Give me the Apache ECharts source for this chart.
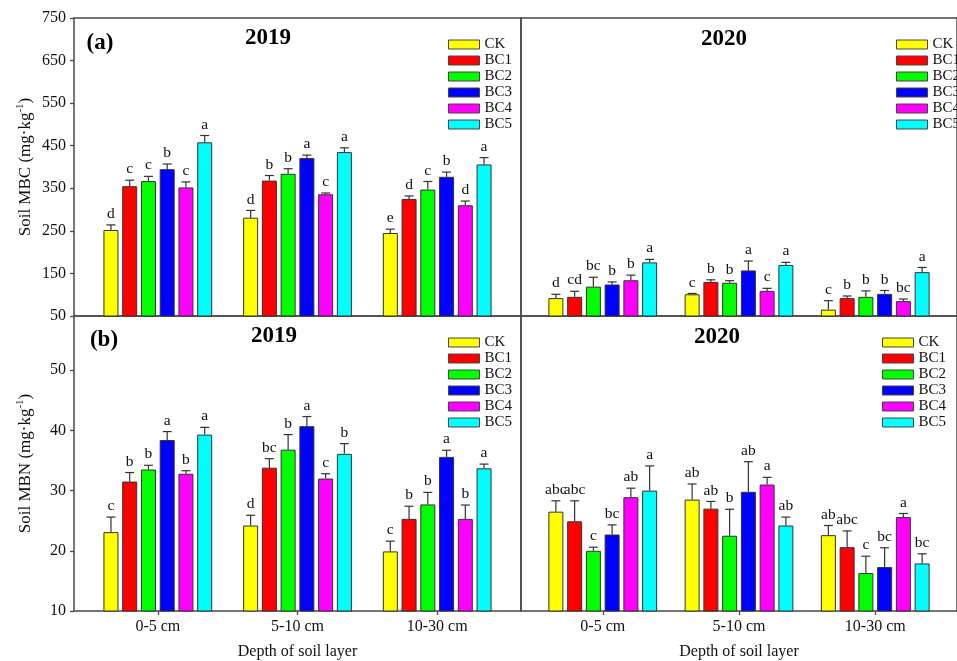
<!DOCTYPE html>
<html>
<head>
<meta charset="utf-8">
<script src="https://cdn.jsdelivr.net/npm/echarts@6/dist/echarts.min.js"></script>
<style>
  html, body { margin: 0; padding: 0; background: #fff; }
  #chart { width: 957px; height: 661px; }
</style>
</head>
<body>
<div id="chart"></div>
<script>
// Soil depth layers and biochar treatments
const depths = ['0-5 cm', '5-10 cm', '10-30 cm'];
const treatments = ['CK', 'BC1', 'BC2', 'BC3', 'BC4', 'BC5'];

// Tick values for the two y-axes
const mbcTicks = [50, 150, 250, 350, 450, 550, 650, 750];
const mbnTicks = [10, 20, 30, 40, 50];

// Soil MBC 2019: mean per treatment (rows) and depth (columns), SE, significance letters
const mbc2019Mean = [[252, 281, 245], [355, 368, 325], [367, 384, 347], [395, 421, 377], [352, 336, 310], [458, 435, 406]];
const mbc2019Err  = [[12, 17, 9], [14, 12, 7], [11, 12, 19], [12, 7, 11], [13, 3, 10], [16, 10, 16]];
const mbc2019Sig  = [['d', 'd', 'e'], ['c', 'b', 'd'], ['c', 'b', 'c'], ['b', 'a', 'b'], ['c', 'c', 'd'], ['a', 'a', 'a']];

// Soil MBC 2020
const mbc2020Mean = [[92, 101, 65], [95, 130, 92], [119, 128, 95], [124, 157, 102], [134, 109, 85], [176, 170, 153]];
const mbc2020Err  = [[9, 2, 21], [13, 5, 5], [22, 5, 14], [6, 22, 8], [12, 6, 5], [7, 6, 11]];
const mbc2020Sig  = [['d', 'c', 'c'], ['cd', 'b', 'b'], ['bc', 'b', 'b'], ['b', 'a', 'b'], ['b', 'c', 'bc'], ['a', 'a', 'a']];

// Soil MBN 2019
const mbn2019Mean = [[23.1, 24.2, 19.9], [31.5, 33.8, 25.3], [33.5, 36.8, 27.7], [38.4, 40.7, 35.6], [32.8, 32.0, 25.3], [39.3, 36.1, 33.7]];
const mbn2019Err  = [[2.5, 1.7, 1.7], [1.5, 1.5, 2.1], [0.7, 2.5, 2.0], [1.4, 1.6, 1.1], [0.5, 0.8, 2.3], [1.2, 1.7, 0.7]];
const mbn2019Sig  = [['c', 'd', 'c'], ['b', 'bc', 'b'], ['b', 'b', 'b'], ['a', 'a', 'a'], ['b', 'c', 'b'], ['a', 'b', 'a']];

// Soil MBN 2020
const mbn2020Mean = [[26.5, 28.5, 22.6], [24.9, 27.0, 20.6], [20.0, 22.5, 16.3], [22.7, 29.8, 17.3], [28.9, 31.0, 25.6], [30.0, 24.2, 17.9]];
const mbn2020Err  = [[1.8, 2.6, 1.6], [3.4, 1.2, 2.7], [0.6, 4.4, 2.8], [1.6, 5.0, 3.2], [1.5, 1.2, 0.6], [4.1, 1.4, 1.6]];
const mbn2020Sig  = [['abc', 'ab', 'ab'], ['abc', 'ab', 'abc'], ['c', 'b', 'c'], ['bc', 'ab', 'bc'], ['ab', 'a', 'a'], ['a', 'ab', 'bc']];

// ---- styling ----
const FONT = '"Liberation Serif", "Times New Roman", serif';
const palette = ['#ffff00', '#ff0000', '#00ff00', '#0000ff', '#ff00ff', '#00ffff'];
const FRAME = '#4a4a4a';
const BAR_W = 15;
const BAR_GAP = 0.25;
const BAR_PITCH = BAR_W * (1 + BAR_GAP);

// four panels: top row MBC, bottom row MBN; left 2019, right 2020
const panels = [
  { mean: mbc2019Mean, err: mbc2019Err, sig: mbc2019Sig, kind: 'mbc', col: 0 },
  { mean: mbc2020Mean, err: mbc2020Err, sig: mbc2020Sig, kind: 'mbc', col: 1 },
  { mean: mbn2019Mean, err: mbn2019Err, sig: mbn2019Sig, kind: 'mbn', col: 0 },
  { mean: mbn2020Mean, err: mbn2020Err, sig: mbn2020Sig, kind: 'mbn', col: 1 }
];

const grids = [
  { left: 74, top: 18, width: 447, height: 298 },
  { left: 521, top: 18, width: 447, height: 298 },
  { left: 74, top: 316, width: 447, height: 298 },
  { left: 521, top: 316, width: 447, height: 298 }
].map(g => Object.assign(g, { show: true, borderColor: FRAME, borderWidth: 1.5, containLabel: false }));

const xAxes = panels.map((p, i) => {
  const bottomRow = p.kind === 'mbn';
  return {
    type: 'value', gridIndex: i, min: -0.6, max: 2.6,
    splitLine: { show: false },
    axisLine: { show: false, onZero: false },
    axisTick: { show: bottomRow, customValues: [0, 1, 2], length: 4, lineStyle: { color: FRAME, width: 1.3 } },
    axisLabel: {
      show: bottomRow, customValues: [0, 1, 2], margin: 8,
      formatter: v => depths[Math.round(v)] || '',
      fontFamily: FONT, fontSize: 16, color: '#111'
    },
    name: bottomRow ? 'Depth of soil layer' : '',
    nameLocation: 'middle', nameGap: 33,
    nameTextStyle: { fontFamily: FONT, fontSize: 16, color: '#111' }
  };
});

const yAxes = panels.map((p, i) => {
  const isMbc = p.kind === 'mbc';
  const leftCol = p.col === 0;
  const ticks = isMbc ? mbcTicks : mbnTicks;
  return {
    type: 'value', gridIndex: i,
    min: isMbc ? 50 : 10,
    max: isMbc ? 750 : 59,
    splitLine: { show: false },
    axisLine: { show: false, onZero: false },
    axisTick: { show: leftCol, customValues: ticks, length: 4, lineStyle: { color: FRAME, width: 1.3 } },
    axisLabel: { show: leftCol, customValues: ticks, margin: 8, fontFamily: FONT, fontSize: 16, color: '#111' },
    name: leftCol ? (isMbc ? '{t|Soil MBC (mg·kg}{s|-1}{t|)}' : '{t|Soil MBN (mg·kg}{s|-1}{t|)}') : '',
    nameLocation: 'middle', nameGap: 40,
    nameTextStyle: {
      rich: {
        t: { fontFamily: FONT, fontSize: 17, color: '#111', verticalAlign: 'bottom' },
        s: { fontFamily: FONT, fontSize: 11, color: '#111', verticalAlign: 'top', padding: [0, 0, 8, 0] }
      }
    }
  };
});

const series = [];
panels.forEach((p, gi) => {
  treatments.forEach((name, t) => {
    series.push({
      type: 'bar', name: name, xAxisIndex: gi, yAxisIndex: gi,
      data: p.mean[t].map((v, c) => [c, v]),
      barWidth: BAR_W, barGap: (BAR_GAP * 100) + '%',
      clip: true,
      itemStyle: { color: palette[t], borderColor: '#333', borderWidth: 1 },
      emphasis: { disabled: true }
    });
  });
  // error bars (upper half) with significance letters
  const items = [];
  const letters = [];
  p.mean.forEach((row, t) => row.forEach((v, c) => {
    items.push([c, v, p.err[t][c], t]);
    letters.push(p.sig[t][c]);
  }));
  series.push({
    type: 'custom', xAxisIndex: gi, yAxisIndex: gi, data: items, z: 5, silent: true,
    encode: { x: 0, y: 1 },
    renderItem(params, api) {
      const c = api.value(0), v = api.value(1), e = api.value(2), t = api.value(3);
      const dx = (t - (treatments.length - 1) / 2) * BAR_PITCH;
      const base = api.coord([c, v]);
      const top = api.coord([c, v + e]);
      const x = base[0] + dx;
      const ls = { stroke: '#333', lineWidth: 1.2 };
      return {
        type: 'group',
        children: [
          { type: 'line', shape: { x1: x, y1: base[1], x2: x, y2: top[1] }, style: ls },
          { type: 'line', shape: { x1: x - 4.5, y1: top[1], x2: x + 4.5, y2: top[1] }, style: ls },
          { type: 'text', x: x, y: top[1] - 3,
            style: { text: letters[params.dataIndex], align: 'center', verticalAlign: 'bottom',
                     font: '15.5px ' + FONT, fill: '#111' } }
        ]
      };
    }
  });
});

const legendPos = [
  { left: 448, top: 37 },
  { left: 896, top: 37 },
  { left: 448, top: 335 },
  { left: 882, top: 335 }
];
const legends = legendPos.map(pos => ({
  left: pos.left, top: pos.top, orient: 'vertical', padding: 0,
  data: treatments, icon: 'rect', itemWidth: 31, itemHeight: 9, itemGap: 1,
  selectedMode: false,
  itemStyle: { borderColor: '#444', borderWidth: 1 },
  textStyle: { fontFamily: FONT, fontSize: 15, color: '#111', lineHeight: 15 }
}));

const headText = (text, x, y) => ({
  type: 'text', x: x, y: y,
  style: { text: text, align: 'center', verticalAlign: 'middle', font: 'bold 23px ' + FONT, fill: '#000' }
});

const option = {
  animation: false,
  backgroundColor: '#fff',
  grid: grids,
  xAxis: xAxes,
  yAxis: yAxes,
  legend: legends,
  series: series,
  graphic: [
    headText('(a)', 100, 43),
    headText('2019', 268, 38),
    headText('2020', 724, 39),
    headText('(b)', 104, 340),
    headText('2019', 274, 336),
    headText('2020', 717, 337)
  ]
};

const chart = echarts.init(document.getElementById('chart'), null, { renderer: 'canvas' });
chart.setOption(option);
</script>
</body>
</html>
